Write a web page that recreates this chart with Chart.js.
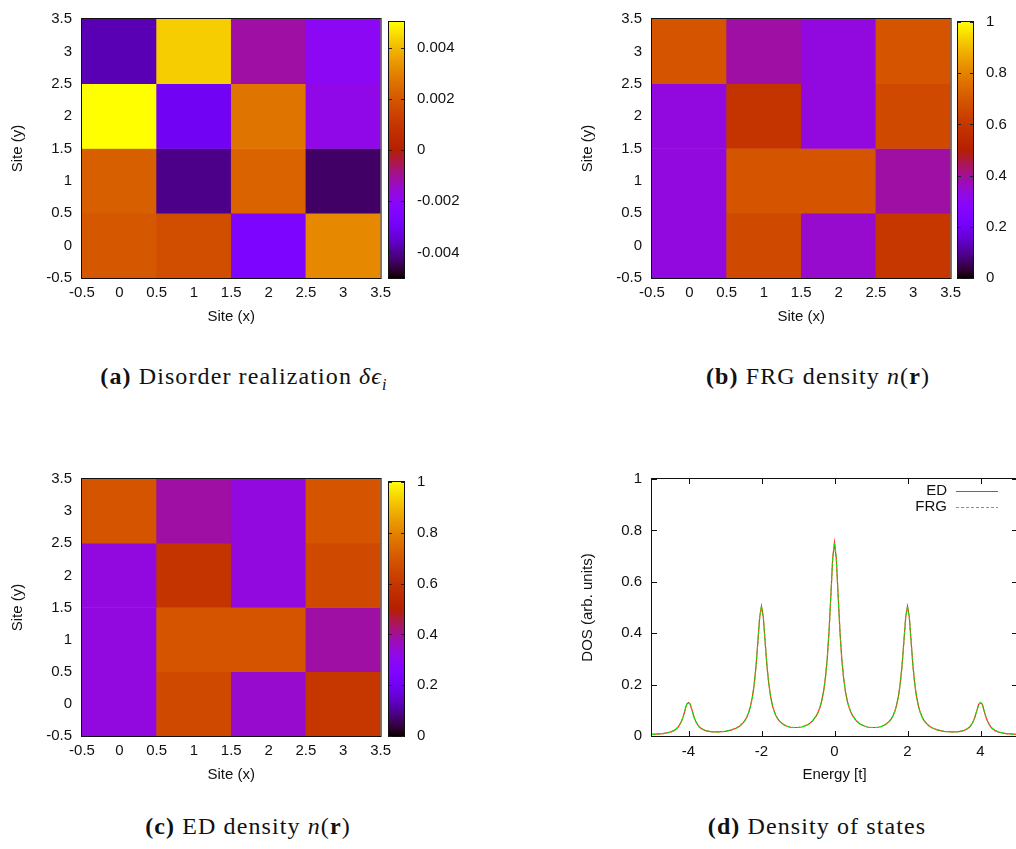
<!DOCTYPE html>
<html>
<head>
<meta charset="utf-8">
<script src="https://cdn.jsdelivr.net/npm/chart.js@4.4.1/dist/chart.umd.min.js"></script>
<style>
  html, body { margin: 0; padding: 0; background: #fff; overflow: hidden; }
  #page { position: relative; width: 1016px; height: 849px; }
  canvas { position: absolute; }
  .cap {
    position: absolute; transform: translateX(-50%); white-space: nowrap;
    font-family: "Liberation Serif", "Times New Roman", serif; font-size: 24px;
    letter-spacing: 1.1px; line-height: 28px; color: #111;
  }
  .cap b { font-weight: bold; }
  .cap i { font-style: italic; }
  .cap sub { font-size: 16px; }
</style>
</head>
<body>
<div id="page">
  <canvas id="mapA" width="397" height="340" style="left:0;top:0"></canvas>
  <canvas id="barA" width="74" height="340" style="left:386px;top:0"></canvas>
  <canvas id="mapB" width="397" height="340" style="left:570px;top:0"></canvas>
  <canvas id="barB" width="74" height="340" style="left:955px;top:0"></canvas>
  <canvas id="mapC" width="397" height="338" style="left:0;top:460px"></canvas>
  <canvas id="barC" width="74" height="338" style="left:386px;top:460px"></canvas>
  <canvas id="dos" width="460" height="338" style="left:570px;top:460px"></canvas>

  <div class="cap" style="left:244px;top:362px"><b>(a)</b> Disorder realization <i>δϵ<sub>i</sub></i></div>
  <div class="cap" style="left:818px;top:362px"><b>(b)</b> FRG density <i>n</i>(<b>r</b>)</div>
  <div class="cap" style="left:248px;top:812px"><b>(c)</b> ED density <i>n</i>(<b>r</b>)</div>
  <div class="cap" style="left:817px;top:812px"><b>(d)</b> Density of states</div>
</div>
<script>
// lattice sites of the 4x4 cluster
const siteX = [0, 1, 2, 3];
const siteY = [0, 1, 2, 3];
const siteTicks = [-0.5, 0, 0.5, 1, 1.5, 2, 2.5, 3, 3.5];

// on-site disorder, one row per y (y = 0 first)
const disorder = [
  [0.0020, 0.0017, -0.0026, 0.0031],
  [0.0022, -0.0041, 0.0023, -0.00435],
  [0.0050, -0.0030, 0.0027, -0.0018],
  [-0.00375, 0.0043, -0.0011, -0.0020]
];

// site densities, one row per y (y = 0 first)
const densityFrg = [
  [0.33, 0.66, 0.35, 0.60],
  [0.33, 0.69, 0.69, 0.39],
  [0.33, 0.59, 0.33, 0.66],
  [0.69, 0.39, 0.33, 0.69]
];
const densityEd = [
  [0.33, 0.66, 0.35, 0.60],
  [0.33, 0.69, 0.69, 0.39],
  [0.33, 0.59, 0.33, 0.66],
  [0.69, 0.39, 0.33, 0.69]
];

const cbTicksDisorder = [-0.004, -0.002, 0, 0.002, 0.004];
const cbTicksDensity = [0, 0.2, 0.4, 0.6, 0.8, 1];

// density of states
const energy = [
  -5.0, -4.9, -4.8, -4.7, -4.6, -4.5, -4.45, -4.4, -4.35, -4.3,
  -4.25, -4.2, -4.15, -4.1, -4.05, -4.0, -3.95, -3.9, -3.85, -3.8,
  -3.75, -3.7, -3.65, -3.6, -3.55, -3.5, -3.4, -3.3, -3.2, -3.1,
  -3.0, -2.9, -2.8, -2.7, -2.6, -2.5, -2.45, -2.4, -2.35, -2.3,
  -2.25, -2.2, -2.15, -2.1, -2.05, -2.0, -1.95, -1.9, -1.85, -1.8,
  -1.75, -1.7, -1.65, -1.6, -1.55, -1.5, -1.4, -1.3, -1.2, -1.1,
  -1.0, -0.9, -0.8, -0.7, -0.6, -0.5, -0.45, -0.4, -0.35, -0.3,
  -0.25, -0.2, -0.15, -0.1, -0.05, 0.0, 0.05, 0.1, 0.15, 0.2,
  0.25, 0.3, 0.35, 0.4, 0.45, 0.5, 0.6, 0.7, 0.8, 0.9,
  1.0, 1.1, 1.2, 1.3, 1.4, 1.5, 1.55, 1.6, 1.65, 1.7,
  1.75, 1.8, 1.85, 1.9, 1.95, 2.0, 2.05, 2.1, 2.15, 2.2,
  2.25, 2.3, 2.35, 2.4, 2.45, 2.5, 2.6, 2.7, 2.8, 2.9,
  3.0, 3.1, 3.2, 3.3, 3.4, 3.5, 3.55, 3.6, 3.65, 3.7,
  3.75, 3.8, 3.85, 3.9, 3.95, 4.0, 4.05, 4.1, 4.15, 4.2,
  4.25, 4.3, 4.35, 4.4, 4.45, 4.5, 4.6, 4.7, 4.8, 4.9,
  5.0
];
const dosEd = [
  0.006, 0.007, 0.008, 0.009, 0.012, 0.015, 0.018, 0.021, 0.026, 0.032,
  0.042, 0.055, 0.073, 0.098, 0.123, 0.130, 0.123, 0.099, 0.075, 0.056,
  0.044, 0.035, 0.029, 0.025, 0.022, 0.020, 0.017, 0.016, 0.016, 0.017,
  0.018, 0.021, 0.025, 0.030, 0.038, 0.052, 0.061, 0.074, 0.092, 0.116,
  0.151, 0.201, 0.272, 0.366, 0.462, 0.505, 0.462, 0.366, 0.273, 0.203,
  0.153, 0.119, 0.095, 0.078, 0.066, 0.057, 0.045, 0.038, 0.034, 0.033,
  0.033, 0.035, 0.040, 0.047, 0.059, 0.078, 0.092, 0.111, 0.137, 0.173,
  0.225, 0.299, 0.406, 0.546, 0.690, 0.753, 0.690, 0.546, 0.406, 0.299,
  0.225, 0.173, 0.137, 0.111, 0.092, 0.078, 0.059, 0.047, 0.040, 0.035,
  0.033, 0.033, 0.034, 0.038, 0.045, 0.057, 0.066, 0.078, 0.095, 0.119,
  0.153, 0.203, 0.273, 0.366, 0.462, 0.505, 0.462, 0.366, 0.272, 0.201,
  0.151, 0.116, 0.092, 0.074, 0.061, 0.052, 0.038, 0.030, 0.025, 0.021,
  0.018, 0.017, 0.016, 0.016, 0.017, 0.020, 0.022, 0.025, 0.029, 0.035,
  0.044, 0.056, 0.075, 0.099, 0.123, 0.130, 0.123, 0.098, 0.073, 0.055,
  0.042, 0.032, 0.026, 0.021, 0.018, 0.015, 0.012, 0.009, 0.008, 0.007,
  0.006
];
const dosFrg = [
  0.006, 0.007, 0.008, 0.009, 0.012, 0.015, 0.018, 0.021, 0.026, 0.032,
  0.042, 0.055, 0.073, 0.098, 0.123, 0.130, 0.123, 0.099, 0.075, 0.056,
  0.044, 0.035, 0.029, 0.025, 0.022, 0.020, 0.017, 0.016, 0.016, 0.017,
  0.018, 0.021, 0.025, 0.030, 0.038, 0.052, 0.061, 0.074, 0.092, 0.116,
  0.151, 0.201, 0.272, 0.366, 0.462, 0.505, 0.462, 0.366, 0.273, 0.203,
  0.153, 0.119, 0.095, 0.078, 0.066, 0.057, 0.045, 0.038, 0.034, 0.033,
  0.033, 0.035, 0.040, 0.047, 0.059, 0.078, 0.092, 0.111, 0.137, 0.173,
  0.225, 0.299, 0.406, 0.546, 0.690, 0.753, 0.690, 0.546, 0.406, 0.299,
  0.225, 0.173, 0.137, 0.111, 0.092, 0.078, 0.059, 0.047, 0.040, 0.035,
  0.033, 0.033, 0.034, 0.038, 0.045, 0.057, 0.066, 0.078, 0.095, 0.119,
  0.153, 0.203, 0.273, 0.366, 0.462, 0.505, 0.462, 0.366, 0.272, 0.201,
  0.151, 0.116, 0.092, 0.074, 0.061, 0.052, 0.038, 0.030, 0.025, 0.021,
  0.018, 0.017, 0.016, 0.016, 0.017, 0.020, 0.022, 0.025, 0.029, 0.035,
  0.044, 0.056, 0.075, 0.099, 0.123, 0.130, 0.123, 0.098, 0.073, 0.055,
  0.042, 0.032, 0.026, 0.021, 0.018, 0.015, 0.012, 0.009, 0.008, 0.007,
  0.006
];
const dosTicksX = [-4, -2, 0, 2, 4];
const dosTicksY = [0, 0.2, 0.4, 0.6, 0.8, 1];

Chart.defaults.font.family = '"Liberation Sans", Arial, sans-serif';
Chart.defaults.font.size = 15;
Chart.defaults.color = '#111';
Chart.defaults.animation = false;
Chart.defaults.events = [];
Chart.defaults.plugins.legend.display = false;
Chart.defaults.plugins.tooltip.enabled = false;

// gnuplot's default pm3d palette (rgbformulae 7,5,15)
function palette(t) {
  t = Math.min(1, Math.max(0, t));
  const r = Math.sqrt(t), g = t * t * t, b = Math.max(0, Math.sin(2 * Math.PI * t));
  return `rgb(${Math.round(r * 255)},${Math.round(g * 255)},${Math.round(b * 255)})`;
}

const fmt = v => String(+v.toFixed(4));
const fixTicks = list => scale => { scale.ticks = list.map(v => ({ value: v })); };

// black box round the plot area, optional inward tics
const frame = {
  id: 'frame',
  afterDatasetsDraw(chart, args, opts) {
    const { ctx, chartArea: a, scales } = chart;
    ctx.save();
    ctx.strokeStyle = '#111';
    ctx.lineWidth = 1;
    if (opts.tics) {
      const len = opts.tics;
      ctx.beginPath();
      scales.x.ticks.forEach(t => {
        const px = Math.round(scales.x.getPixelForValue(t.value)) + 0.5;
        ctx.moveTo(px, a.bottom); ctx.lineTo(px, a.bottom - len);
        ctx.moveTo(px, a.top); ctx.lineTo(px, a.top + len);
      });
      scales.y.ticks.forEach(t => {
        const py = Math.round(scales.y.getPixelForValue(t.value)) + 0.5;
        ctx.moveTo(a.left, py); ctx.lineTo(a.left + len, py);
        ctx.moveTo(a.right, py); ctx.lineTo(a.right - len, py);
      });
      ctx.stroke();
    }
    ctx.strokeRect(a.left - 0.5, a.top - 0.5, a.right - a.left + 1, a.bottom - a.top + 1);
    ctx.restore();
  }
};

function siteAxes() {
  return {
    // hidden index scale for the cells: one tick per site, so each bar spans a full site
    cx: {
      type: 'linear', display: false, min: -0.5, max: 3.5, offset: false,
      afterBuildTicks: fixTicks(siteX)
    },
    x: {
      type: 'linear', min: -0.5, max: 3.5, offset: false,
      grid: { display: false, drawTicks: false }, border: { display: false },
      ticks: { padding: 6, maxRotation: 0, autoSkip: false, callback: fmt },
      afterBuildTicks: fixTicks(siteTicks),
      afterFit: s => { s.height = 62; },
      title: { display: true, text: 'Site (x)', padding: { top: 0, bottom: 14 } }
    },
    y: {
      type: 'linear', min: -0.5, max: 3.5,
      grid: { display: false, drawTicks: false }, border: { display: false },
      ticks: { padding: 10, autoSkip: false, callback: fmt },
      afterBuildTicks: fixTicks(siteTicks),
      afterFit: s => { s.width = 82; },
      title: { display: true, text: 'Site (y)', padding: { top: 9, bottom: 0 } }
    }
  };
}

function heatmap(id, values, vmin, vmax, padTop) {
  const cells = [], colors = [];
  values.forEach((row, iy) => row.forEach((v, ix) => {
    cells.push({ x: siteX[ix], y: [siteY[iy] - 0.5, siteY[iy] + 0.5] });
    colors.push(palette((v - vmin) / (vmax - vmin)));
  }));
  return new Chart(document.getElementById(id), {
    type: 'bar',
    data: {
      datasets: [{
        data: cells,
        xAxisID: 'cx',
        yAxisID: 'y',
        backgroundColor: colors,
        borderWidth: 0,
        barPercentage: 1,
        categoryPercentage: 1
      }]
    },
    options: {
      responsive: false,
      layout: { padding: { left: 0, top: padTop, right: 15, bottom: 0 } },
      scales: siteAxes(),
      plugins: { frame: {} }
    },
    plugins: [frame]
  });
}

function colorbar(id, vmin, vmax, tickList, padTop, padBottom) {
  return new Chart(document.getElementById(id), {
    type: 'bar',
    data: {
      labels: [''],
      datasets: [{
        data: [[vmin, vmax]],
        borderWidth: 0,
        barPercentage: 1,
        categoryPercentage: 1,
        backgroundColor: c => {
          const a = c.chart.chartArea;
          if (!a) return '#888';
          const grad = c.chart.ctx.createLinearGradient(0, a.bottom, 0, a.top);
          for (let i = 0; i <= 64; i++) grad.addColorStop(i / 64, palette(i / 64));
          return grad;
        }
      }]
    },
    options: {
      responsive: false,
      layout: { padding: { left: 3, top: padTop, right: 0, bottom: padBottom } },
      scales: {
        x: { display: false },
        y: {
          position: 'right', min: vmin, max: vmax,
          grid: { display: false, drawTicks: false }, border: { display: false },
          ticks: { padding: 13, autoSkip: false, callback: fmt },
          afterBuildTicks: fixTicks(tickList),
          afterFit: s => { s.width = 56; }
        }
      },
      plugins: { frame: {} }
    },
    plugins: [frame, {
      id: 'cbtics',
      afterDatasetsDraw(chart) {
        const { ctx, chartArea: a, scales: { y } } = chart;
        ctx.save();
        ctx.strokeStyle = '#222';
        ctx.beginPath();
        y.ticks.forEach(t => {
          const py = Math.round(y.getPixelForValue(t.value)) + 0.5;
          ctx.moveTo(a.left, py); ctx.lineTo(a.left + 3, py);
          ctx.moveTo(a.right, py); ctx.lineTo(a.right - 3, py);
        });
        ctx.stroke();
        ctx.restore();
      }
    }]
  });
}

heatmap('mapA', disorder, -0.005, 0.005, 18);
colorbar('barA', -0.005, 0.005, cbTicksDisorder, 18, 62);
heatmap('mapB', densityFrg, 0, 1, 18);
colorbar('barB', 0, 1, cbTicksDensity, 18, 62);
heatmap('mapC', densityEd, 0, 1, 15);
colorbar('barC', 0, 1, cbTicksDensity, 15, 62);

// key drawn inside the plot, text to the left of the line sample
const dosKey = {
  id: 'dosKey',
  afterDatasetsDraw(chart) {
    const { ctx, chartArea: a } = chart;
    ctx.save();
    ctx.font = '15px "Liberation Sans", Arial, sans-serif';
    ctx.fillStyle = '#111';
    ctx.textAlign = 'right';
    ctx.textBaseline = 'middle';
    chart.data.datasets.forEach((ds, i) => {
      const y = a.top + 11.5 + i * 16.5;
      ctx.fillText(ds.label, a.right - 70, y);
      ctx.strokeStyle = ds.borderColor;
      ctx.lineWidth = 1.2;
      ctx.setLineDash(ds.borderDash || []);
      ctx.beginPath();
      ctx.moveTo(a.right - 61, Math.round(y) + 0.5);
      ctx.lineTo(a.right - 19, Math.round(y) + 0.5);
      ctx.stroke();
    });
    ctx.restore();
  }
};

new Chart(document.getElementById('dos'), {
  type: 'line',
  data: {
    datasets: [
      {
        label: 'ED',
        data: energy.map((e, i) => ({ x: e, y: dosEd[i] })),
        borderColor: '#ff2a2a',
        borderWidth: 1.2,
        pointRadius: 0,
        tension: 0,
        order: 2
      },
      {
        label: 'FRG',
        data: energy.map((e, i) => ({ x: e, y: dosFrg[i] })),
        borderColor: '#00f000',
        borderWidth: 1.2,
        borderDash: [3, 2],
        pointRadius: 0,
        tension: 0,
        order: 1
      }
    ]
  },
  options: {
    responsive: false,
    layout: { padding: { left: 0, top: 16, right: 13, bottom: 0 } },
    scales: {
      x: {
        type: 'linear', min: -5, max: 5,
        grid: { display: false, drawTicks: false }, border: { display: false },
        ticks: { padding: 7, maxRotation: 0, autoSkip: false, callback: fmt },
        afterBuildTicks: fixTicks(dosTicksX),
        afterFit: s => { s.height = 62; },
        title: { display: true, text: 'Energy [t]', padding: { top: 0, bottom: 14 } }
      },
      y: {
        type: 'linear', min: 0, max: 1,
        grid: { display: false, drawTicks: false }, border: { display: false },
        ticks: { padding: 10, autoSkip: false, callback: fmt },
        afterBuildTicks: fixTicks(dosTicksY),
        afterFit: s => { s.width = 82; },
        title: { display: true, text: 'DOS (arb. units)', padding: { top: 9, bottom: 0 } }
      }
    },
    plugins: { frame: { tics: 5 } }
  },
  plugins: [frame, dosKey]
});
</script>
</body>
</html>
